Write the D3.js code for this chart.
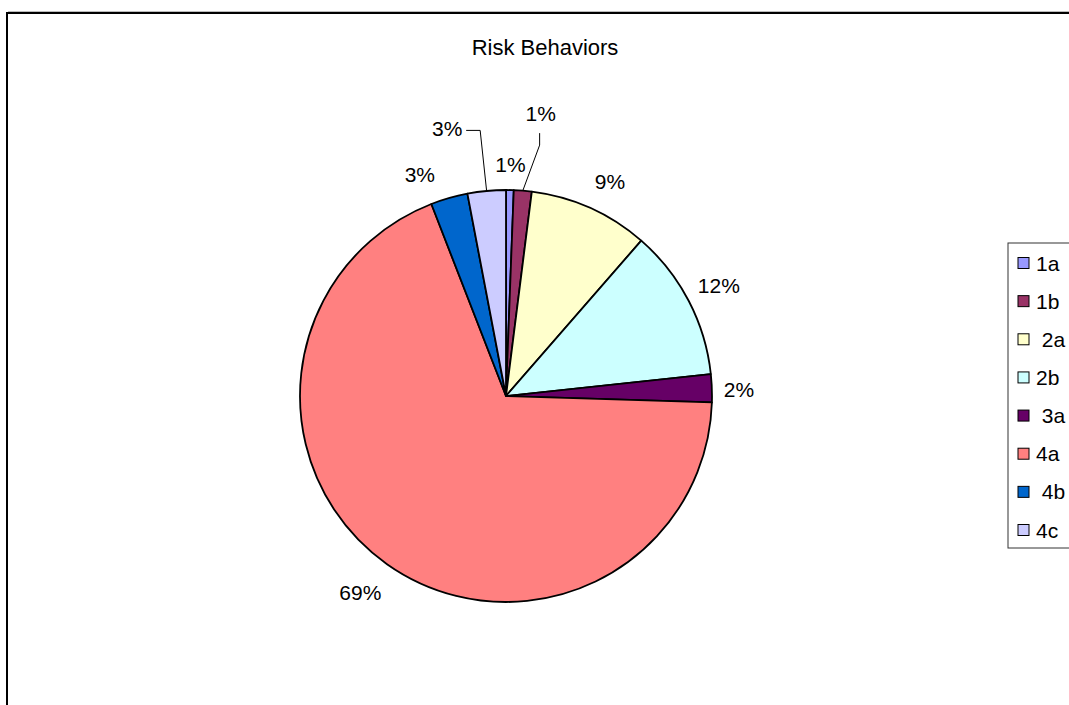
<!DOCTYPE html>
<html>
<head>
<meta charset="UTF-8">
<title>Risk Behaviors</title>
<script src="https://cdnjs.cloudflare.com/ajax/libs/d3/7.8.5/d3.min.js"></script>
<style>
body { margin: 0; background: #fff; }
text { font-family: Arial, "Liberation Sans", sans-serif; fill: #000; }
</style>
</head>
<body>
<div id="chart"></div>
<script>
/*global d3*/

// values (percent of total)
var categories = ["1a", "1b", "2a", "2b", "3a", "4a", "4b", "4c"];
var legendLabels = ["1a", "1b", " 2a", "2b", " 3a", "4a", " 4b", "4c"];
var shares = [0.6, 1.4, 9.4, 11.9, 2.2, 68.6, 2.9, 3.0];
var colors = ["#9999FF", "#993366", "#FFFFCC", "#CCFFFF", "#660066", "#FF8080", "#0066CC", "#CCCCFF"];

var width = 1069, height = 705;
var cx = 506, cy = 396, radius = 206;

var svg = d3.select("#chart").append("svg")
    .attr("width", width)
    .attr("height", height);

// chart frame (cut off right / bottom)
svg.append("path")
    .attr("d", "M7," + (height + 5) + "V13H" + (width + 5))
    .attr("fill", "none")
    .attr("stroke", "#000")
    .attr("stroke-width", 2);
svg.append("line")
    .attr("x1", 8).attr("x2", width).attr("y1", 11.5).attr("y2", 11.5)
    .attr("stroke", "#bbb").attr("stroke-width", 1);

svg.append("text")
    .attr("x", 545)
    .attr("y", 47)
    .attr("text-anchor", "middle")
    .attr("dominant-baseline", "central")
    .style("font-size", "22px")
    .text("Risk Behaviors");

var total = d3.sum(shares);
var pie = d3.pie().sort(null).value(function (d) { return d; });
var arcs = pie(shares);

var arc = d3.arc().innerRadius(0).outerRadius(radius);

var g = svg.append("g").attr("transform", "translate(" + cx + "," + cy + ")");

g.selectAll("path.slice")
    .data(arcs)
    .enter()
    .append("path")
    .attr("class", "slice")
    .attr("d", arc)
    .attr("fill", function (d, i) { return colors[i]; })
    .attr("stroke", "#000")
    .attr("stroke-width", 1.8)
    .attr("stroke-linejoin", "round");

// label placement: angle shift (deg) and radius, some labels pulled out with leaders
var labelShift = [0, 2.3, 1.8, 0, 0.5, 1.2, -5.2, -7];
var labelRadius = [232, 285, 238, 240, 233, 245, 238, 274];
var hasLeader = [false, true, false, false, false, false, false, true];

function polar(angle, r) {
    return [Math.sin(angle) * r, -Math.cos(angle) * r];
}

arcs.forEach(function (d, i) {
    var mid = (d.startAngle + d.endAngle) / 2;
    var p = polar(mid + labelShift[i] * Math.PI / 180, labelRadius[i]);
    var pct = Math.round(d.value / total * 100) + "%";
    g.append("text")
        .attr("x", p[0])
        .attr("y", p[1])
        .attr("text-anchor", "middle")
        .attr("dominant-baseline", "central")
        .style("font-size", "21px")
        .text(pct);
    if (hasLeader[i]) {
        var e = polar(mid, radius);
        var pts;
        if (p[0] > e[0]) {
            // label above-right: drop down then angle in
            pts = [[p[0] - 1, p[1] + 20], [p[0] - 1, p[1] + 32], e];
        } else {
            // label left: run right then down
            pts = [[p[0] + 19, p[1] + 2], [p[0] + 33, p[1] + 2], e];
        }
        g.append("path")
            .attr("d", d3.line()(pts))
            .attr("fill", "none")
            .attr("stroke", "#000")
            .attr("stroke-width", 1);
    }
});

// legend (cut off at the right edge)
var legend = svg.append("g").attr("transform", "translate(1008,243)");
legend.append("rect")
    .attr("x", 0).attr("y", 0)
    .attr("width", 90).attr("height", 305)
    .attr("fill", "#fff")
    .attr("stroke", "#333")
    .attr("stroke-width", 1);

var rowY = d3.scalePoint().domain(categories).range([20, 287]);

var items = legend.selectAll("g.item")
    .data(categories)
    .enter()
    .append("g")
    .attr("class", "item")
    .attr("transform", function (d) { return "translate(0," + rowY(d) + ")"; });

items.append("rect")
    .attr("x", 10).attr("y", -5.5)
    .attr("width", 11).attr("height", 11)
    .attr("fill", function (d, i) { return colors[i]; })
    .attr("stroke", "#000")
    .attr("stroke-width", 1);

items.append("text")
    .attr("x", 28)
    .attr("y", 0)
    .attr("dominant-baseline", "central")
    .style("font-size", "21px")
    .style("white-space", "pre")
    .text(function (d, i) { return legendLabels[i]; });
</script>
</body>
</html>
